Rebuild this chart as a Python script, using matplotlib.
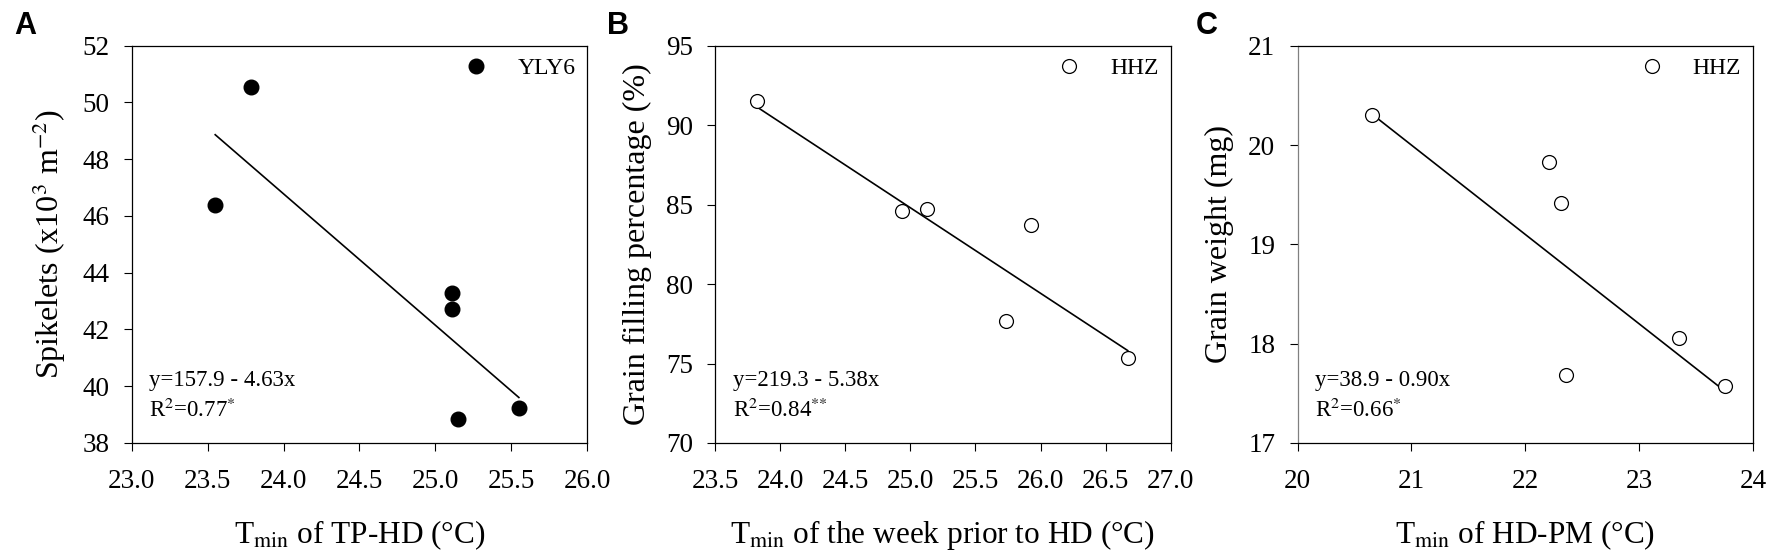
import numpy as np
import matplotlib
matplotlib.use('Agg')
import matplotlib.pyplot as plt

plt.rcParams['font.family'] = ['Liberation Serif', 'DejaVu Serif']
plt.rcParams['mathtext.fontset'] = 'stix'

# panel A - YLY6
tmin_tp_hd = [23.55, 23.785, 25.11, 25.11, 25.15, 25.55]
spikelets = [46.37, 50.53, 43.28, 42.71, 38.84, 39.23]

# panel B - HHZ
tmin_week = [23.818, 24.935, 25.126, 25.929, 25.738, 26.67]
grain_filling = [91.49, 84.58, 84.71, 83.71, 77.67, 75.32]

# panel C - HHZ
tmin_hd_pm = [20.651, 22.205, 22.31, 22.362, 23.346, 23.752]
grain_weight = [20.30, 19.83, 19.415, 17.68, 18.06, 17.57]

panels = [
    dict(x=tmin_tp_hd, y=spikelets, name='YLY6', filled=True,
         a=157.9, b=-4.63, eq='y=157.9 - 4.63x', r2=r'R$^{2}$=0.77$^{{*}}$',
         xlim=(23.0, 26.0), xticks=np.arange(23.0, 26.01, 0.5), xfmt='{:.1f}',
         ylim=(38, 52), yticks=np.arange(38, 52.1, 2),
         xlabel=r'T$_{\rm min}$ of TP-HD (°C)',
         ylabel=r'Spikelets (x10$^{3}$ m$^{-2}$)', letter='A'),
    dict(x=tmin_week, y=grain_filling, name='HHZ', filled=False,
         a=219.3, b=-5.38, eq='y=219.3 - 5.38x', r2=r'R$^{2}$=0.84$^{{*}{*}}$',
         xlim=(23.5, 27.0), xticks=np.arange(23.5, 27.01, 0.5), xfmt='{:.1f}',
         ylim=(70, 95), yticks=np.arange(70, 95.1, 5),
         xlabel=r'T$_{\rm min}$ of the week prior to HD (°C)',
         ylabel='Grain filling percentage (%)', letter='B'),
    dict(x=tmin_hd_pm, y=grain_weight, name='HHZ', filled=False,
         a=38.9, b=-0.90, eq='y=38.9 - 0.90x', r2=r'R$^{2}$=0.66$^{{*}}$',
         xlim=(20, 24), xticks=np.arange(20, 24.1, 1), xfmt='{:.0f}',
         ylim=(17, 21), yticks=np.arange(17, 21.1, 1),
         xlabel=r'T$_{\rm min}$ of HD-PM (°C)',
         ylabel='Grain weight (mg)', letter='C'),
]

W, H = 1775, 558
fig = plt.figure(figsize=(W / 100, H / 100), dpi=100)
lefts = [131.7, 715.2, 1297.5]
ax_w = 455.5 / W
ax_b = 1 - 443 / H
ax_h = (443 - 45.7) / H
letter_x = [14, 607, 1196]

for i, (p, left, lx) in enumerate(zip(panels, lefts, letter_x)):
    ax = fig.add_axes([left / W, ax_b, ax_w, ax_h])
    if p['filled']:
        ax.plot(p['x'], p['y'], 'o', color='black', markersize=10.5, linestyle='none',
                label=p['name'], clip_on=False, zorder=3)
    else:
        ax.plot(p['x'], p['y'], 'o', markerfacecolor='white', markeredgecolor='black',
                markeredgewidth=0.9, markersize=10, linestyle='none',
                label=p['name'], clip_on=False, zorder=3)
    xs = np.array([min(p['x']), max(p['x'])])
    ax.plot(xs, p['a'] + p['b'] * xs, color='black', linewidth=1.2, zorder=2)

    ax.set_xlim(p['xlim'])
    ax.set_ylim(p['ylim'])
    ax.set_xticks(p['xticks'])
    ax.set_xticklabels([p['xfmt'].format(v) for v in p['xticks']])
    ax.set_yticks(p['yticks'])
    ax.set_yticklabels(['{:.0f}'.format(v) for v in p['yticks']])
    ax.tick_params(direction='out', length=5.5, width=0.8, labelsize=19.5,
                   top=False, right=False)
    ax.tick_params(axis='x', pad=13.5)
    ax.tick_params(axis='y', pad=10.5)
    for s in ax.spines.values():
        s.set_linewidth(0.9)
    if i == 2:
        ax.spines['left'].set_color('#808080')
    ax.set_xlabel(p['xlabel'], fontsize=22.5, labelpad=17)
    ax.set_ylabel(p['ylabel'], fontsize=23, labelpad=10)

    ax.text(0.038, 0.1435, p['eq'], transform=ax.transAxes, fontsize=16.5,
            va='baseline', ha='left')
    ax.text(0.038, 0.066, p['r2'], transform=ax.transAxes, fontsize=16.5,
            va='baseline', ha='left')

    ax.legend(loc='upper right', frameon=False, fontsize=17, handletextpad=1.25,
              borderaxespad=0.1, borderpad=0.4, handlelength=1.0)

    fig.text(lx / W, 1 - 26 / H, p['letter'], fontsize=22, fontweight='bold',
             family='Liberation Sans', va='center', ha='left')

fig.savefig('out.png', dpi=100)
